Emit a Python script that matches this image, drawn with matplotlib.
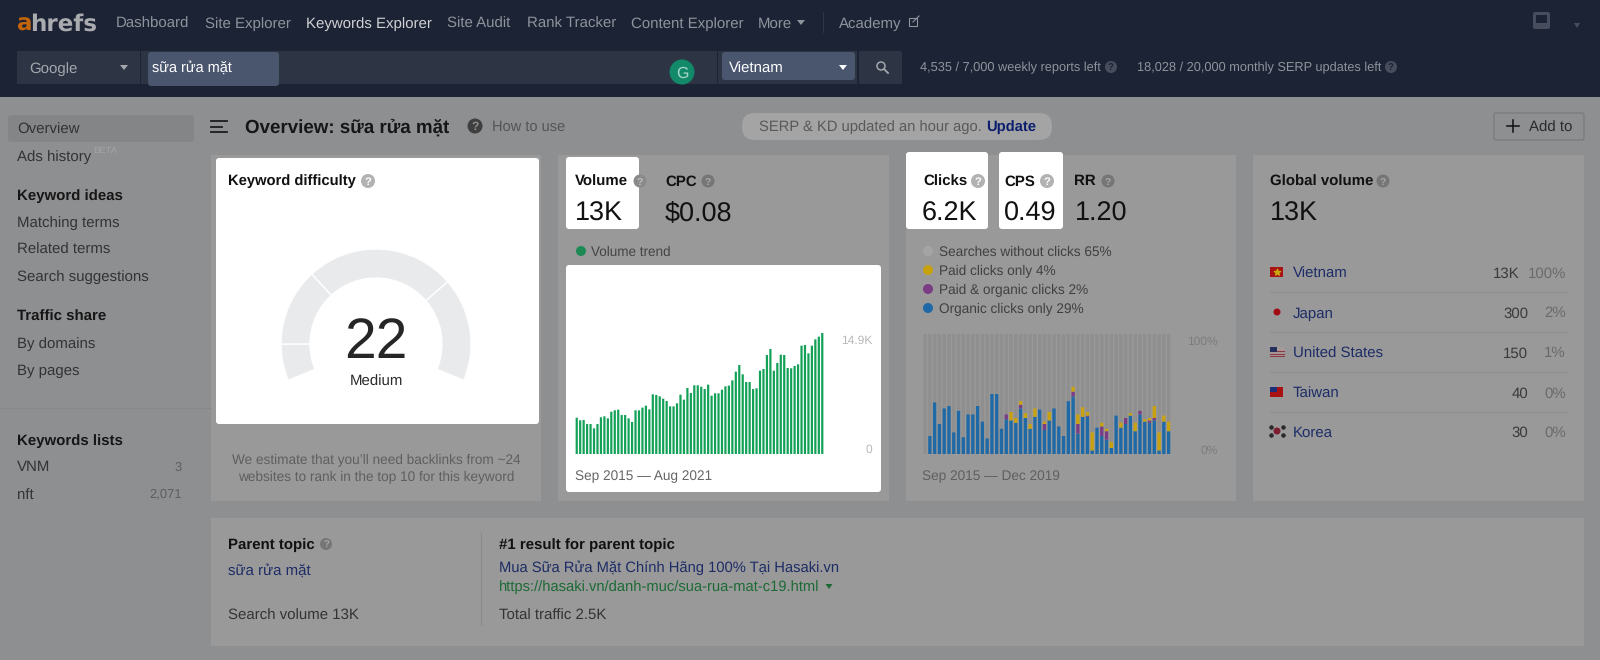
import matplotlib
matplotlib.use("Agg")
import matplotlib.pyplot as plt
from matplotlib.patches import Circle, FancyBboxPatch, Polygon, Rectangle
import numpy as np

plt.rcParams['font.family'] = ['Liberation Sans', 'DejaVu Sans']
plt.rcParams['text.hinting'] = 'no_hinting'
plt.rcParams['text.hinting_factor'] = 8

# data
volume_trend = [4.47, 4.15, 4.19, 3.69, 3.69, 3.16, 3.69, 4.52, 4.64, 4.39, 5.21, 5.38,
                5.46, 4.80, 4.80, 4.39, 3.94, 5.38, 5.38, 5.71, 5.95, 5.50, 7.35, 7.27,
                7.10, 6.81, 6.53, 5.87, 5.87, 6.24, 7.31, 6.69, 8.13, 7.51, 8.46, 8.46,
                8.29, 8.00, 8.54, 7.18, 7.47, 7.47, 7.92, 8.33, 8.42, 9.07, 10.14, 10.96,
                9.81, 8.87, 8.87, 8.00, 8.09, 10.26, 10.47, 12.19, 12.93, 10.26, 11.21, 12.23,
                12.19, 10.59, 10.55, 10.84, 11.04, 13.34, 13.42, 12.40, 13.34, 14.12, 14.45, 14.9]

organic = [0, 15, 43, 25, 38, 40, 18, 36, 14, 33, 33, 40, 27, 13, 50, 50, 21, 29, 28, 26,
           38, 30, 21, 31, 37, 20, 28, 38, 23, 15, 44, 48, 17, 31, 31, 3, 22, 15, 12, 5,
           32, 22, 25, 32, 19, 33, 27, 26, 28, 3, 27, 19]
paid_organic = [0, 0, 0, 0, 0, 0, 0, 0, 0, 0, 0, 0, 0, 0, 0, 0, 0, 4, 0, 0,
                3, 0, 0, 0, 0, 5, 0, 0, 0, 0, 0, 4, 8, 0, 1, 0, 0, 8, 7, 0,
                0, 0, 5, 0, 0, 3, 0, 2, 2, 0, 0, 0]
paid = [0, 0, 0, 0, 0, 0, 0, 0, 0, 0, 0, 0, 0, 0, 0, 0, 0, 0, 7, 4,
        3, 4, 4, 7, 0, 2, 7, 0, 0, 0, 0, 4, 8, 8, 3, 15, 0, 3, 2, 5,
        0, 4, 0, 2, 7, 0, 2, 2, 10, 15, 5, 8]

gauge_parts = [22.5, 47.5, 91.5, 63.5, 135]

nav_items = ["Dashboard", "Site Explorer", "Keywords Explorer", "Site Audit", "Rank Tracker",
             "Content Explorer", "More", "Academy"]
nav_x = [116, 205, 306, 447, 527, 631, 758, 839]

side_items = ["Overview", "Ads history", "Matching terms", "Related terms", "Search suggestions",
              "By domains", "By pages", "VNM", "nft"]
side_y = [128, 155, 221, 248, 275, 342, 369, 466, 493]
side_heads = ["Keyword ideas", "Traffic share", "Keywords lists"]
side_heads_y = [194, 315, 439]

countries = ["Vietnam", "Japan", "United States", "Taiwan", "Korea"]
country_vol = ["13K", "300", "150", "40", "30"]
country_pct = ["100%", "2%", "1%", "0%", "0%"]
country_y = [272, 312, 352, 392, 431]

click_labels = ["Searches without clicks 65%", "Paid clicks only 4%",
                "Paid & organic clicks 2%", "Organic clicks only 29%"]
click_colors = ["#a4a4a4", "#c8a20e", "#7b3c86", "#1f69a6"]

NAV = "#1b2335"
PAGE = "#8e8f91"
CARD = "#999999"
NAVY = "#1d2c66"
W, H = 1600, 660

fig = plt.figure(figsize=(16, 6.6), dpi=100, facecolor=PAGE)
ax = fig.add_axes([0, 0, 1, 1])
ax.set_xlim(0, W)
ax.set_ylim(H, 0)
ax.axis('off')


def px_axes(x0, y0, x1, y1):
    a = fig.add_axes([x0 / W, 1 - y1 / H, (x1 - x0) / W, (y1 - y0) / H])
    a.axis('off')
    a.patch.set_alpha(0)
    return a


def box(x0, y0, x1, y1, color, r=0, z=1, edge='none'):
    if r:
        p = FancyBboxPatch((x0 + r, y0 + r), x1 - x0 - 2 * r, y1 - y0 - 2 * r,
                           boxstyle=f"round,pad={r}", fc=color, ec=edge, lw=0.8, zorder=z)
    else:
        p = Rectangle((x0, y0), x1 - x0, y1 - y0, fc=color, ec=edge, zorder=z)
    ax.add_patch(p)


def txt(x, y, s, px=14, color="#3c3c3c", weight='normal', ha='left', z=5, **kw):
    # y is the middle of the x-height line, so every string sits on the same baseline
    ax.text(x, y + px * 0.36, s, fontsize=px * 0.72, color=color, weight=weight, ha=ha,
            va='baseline', zorder=z, **kw)


def qmark(x, y, r=7, color="#b2b2b2", fg="white", z=6):
    ax.add_patch(Circle((x, y), r, fc=color, ec='none', zorder=z))
    txt(x, y, "?", px=r * 1.6, color=fg, weight='bold', ha='center', z=z + 1)


def caret(x, y, color, s=4):
    ax.add_patch(Polygon([(x - s, y - 2), (x + s, y - 2), (x, y + 3)], fc=color, ec='none', zorder=6))


# top bar
box(0, 0, W, 97, NAV)
txt(16, 22, "a", px=23, color="#c2640a", weight='bold', family='DejaVu Sans')
txt(30, 22, "hrefs", px=23, color="#a9abaf", weight='bold', family='DejaVu Sans')
for name, x in zip(nav_items, nav_x):
    col = "#d0d1d3" if name == "Keywords Explorer" else "#8f939b"
    txt(x, 22, name, px=15, color=col)
caret(801, 22, "#8f939b")
ax.plot([823, 823], [12, 32], color="#2d3547", lw=0.8)
ax.add_patch(Rectangle((909, 18), 8, 8, fc='none', ec="#8f939b", lw=0.8, zorder=5))
ax.plot([913, 919], [22, 16], color="#8f939b", lw=0.8, zorder=5)

box(17, 51, 140, 84, "#2d3444")
box(141, 51, 717, 84, "#2d3444")
box(148, 52, 279, 86, "#4a556e", r=3, z=2)
box(718, 51, 857, 84, "#2d3444")
box(722, 52, 855, 80, "#4a556e", r=3, z=2)
box(859, 51, 902, 84, "#2d3444", r=2)
txt(29, 67, "Google", px=15, color="#a3a6ac")
caret(124, 67, "#a3a6ac")
txt(152, 66, "sữa rửa mặt", px=14.5, color="white")
txt(729, 67, "Vietnam", px=15, color="white")
caret(843, 67, "white")
ax.add_patch(Circle((881, 66), 4, fc='none', ec="#a3a6ac", lw=1.1, zorder=5))
ax.plot([884, 888], [69, 73], color="#a3a6ac", lw=1.3, zorder=5)
ax.add_patch(Circle((682, 72), 12.5, fc="#128a6a", ec='none', zorder=5))
txt(682, 72, "G", px=16, color="#a8d6c8", ha='center', z=6)
txt(920, 67, "4,535 / 7,000 weekly reports left", px=12.7, color="#8f939b")
qmark(1111, 67, 6, "#474d5c", "#1b2335")
txt(1137, 67, "18,028 / 20,000 monthly SERP updates left", px=12.7, color="#8f939b")
qmark(1391, 67, 6, "#474d5c", "#1b2335")
box(1533, 12, 1550, 29, "#474d5c", r=2, z=3)
box(1536, 15, 1547, 23, NAV, z=4)
caret(1577, 25, "#474d5c", 3)

# sidebar
box(8, 115, 194, 142, "#848586", r=3)
for name, y in zip(side_items, side_y):
    txt(17, y, name, px=15, color="#333333")
txt(93, 150, "BETA", px=9.5, color="#a5a5a5")
for name, y in zip(side_heads, side_heads_y):
    txt(17, y, name, px=15, color="#161616", weight='bold')
ax.plot([0, 211], [408, 408], color="#878889", lw=0.8)
txt(182, 466, "3", px=13, color="#5f5f5f", ha='right')
txt(182, 493, "2,071", px=13, color="#5f5f5f", ha='right')

# header row
for y, xend in [(121, 227), (126.5, 222), (132, 227)]:
    ax.plot([211, xend], [y, y], color="#1c1c1c", lw=1.3)
txt(245, 126, "Overview: sữa rửa mặt", px=18.8, color="#161616", weight='bold')
qmark(475, 126, 7.5, "#3f3f3f", "#8e8f91")
txt(492, 126, "How to use", px=14.6, color="#555555")
box(742, 113, 1052, 140, "#a4a4a4", r=13)
txt(759, 126, "SERP & KD updated an hour ago.", px=14.7, color="#595959")
txt(986, 126, "Update", px=14.7, color="#0c1f6e", weight='bold')
box(1494, 113, 1584, 140, "#8e8f91", r=2, edge="#77787a")
ax.plot([1507, 1519], [126, 126], color="#111111", lw=1.1, zorder=5)
ax.plot([1513, 1513], [120, 132], color="#111111", lw=1.1, zorder=5)
txt(1529, 126, "Add to", px=15, color="#2b2b2b")

# cards
for x0, x1 in [(211, 541), (558, 889), (906, 1236), (1253, 1584)]:
    box(x0, 155, x1, 501, CARD)
box(211, 518, 1584, 646, CARD)

# keyword difficulty card
box(216, 158, 539, 424, "white", r=3, z=2)
txt(228, 180, "Keyword difficulty", px=14.7, color="#111111", weight='bold')
qmark(368, 181)
gauge = px_axes(281, 249, 471, 439)
gauge.pie(gauge_parts, startangle=202.5, counterclock=False, radius=1,
          colors=["#e9eaec"] * 4 + ["none"],
          wedgeprops=dict(width=29 / 95, edgecolor='white', linewidth=1.0))
gauge.patches[-1].set_edgecolor('none')
gauge.set_xlim(-1, 1)
gauge.set_ylim(-1, 1)
txt(376, 337, "22", px=57, color="#262626", ha='center', z=7)
txt(376, 380, "Medium", px=15, color="#2b2b2b", ha='center', z=7)
txt(376, 459, "We estimate that you’ll need backlinks from ~24", px=13.6, color="#5f5f5f", ha='center')
txt(376, 476, "websites to rank in the top 10 for this keyword", px=13.6, color="#5f5f5f", ha='center')

# volume card
box(566, 157, 639, 229, "white", r=3, z=2)
txt(575, 180, "Volume", px=15, color="#111111", weight='bold')
qmark(640, 181, 6.5, "#8a8a8a", "#bdbdbd")
txt(665, 180, "CPC", px=15, color="#111111", weight='bold')
qmark(708, 181, 6.5, "#767676", "#a8a8a8")
txt(575, 211, "13K", px=27, color="#111111")
txt(665, 211, "$0.08", px=27, color="#111111")
ax.add_patch(Circle((581, 251), 5, fc="#1d8a55", ec='none', zorder=5))
txt(591, 251, "Volume trend", px=13.5, color="#444444")
box(566, 265, 881, 492, "white", r=3, z=2)
trend_ax = px_axes(575, 333, 824, 454)
trend_ax.bar(np.arange(len(volume_trend)), volume_trend, width=0.64, color="#13a158", snap=False, lw=0)
trend_ax.set_xlim(-0.5, len(volume_trend) - 0.5)
trend_ax.set_ylim(0, 14.9)
txt(872, 340, "14.9K", px=12, color="#b8b8b8", ha='right', z=7)
txt(872, 449, "0", px=12, color="#b8b8b8", ha='right', z=7)
txt(575, 475, "Sep 2015 — Aug 2021", px=13.6, color="#666666", z=7)

# clicks card
box(906, 152, 988, 229, "white", r=3, z=2)
box(999, 152, 1063, 229, "white", r=3, z=2)
txt(923, 180, "Clicks", px=15, color="#111111", weight='bold')
qmark(978, 181)
txt(1004, 180, "CPS", px=15, color="#111111", weight='bold')
qmark(1047, 181)
txt(1074, 180, "RR", px=15, color="#111111", weight='bold')
qmark(1108, 181, 6.5, "#767676", "#a8a8a8")
txt(922, 211, "6.2K", px=27, color="#111111")
txt(1004, 211, "0.49", px=27, color="#111111")
txt(1075, 211, "1.20", px=27, color="#111111")
for i, (label, col) in enumerate(zip(click_labels, click_colors)):
    y = 251 + 19 * i
    ax.add_patch(Circle((928, y), 5, fc=col, ec='none', zorder=5))
    txt(939, y, label, px=13.6, color="#404040")
clicks_ax = px_axes(922.7, 334, 1171, 454)
pos = np.arange(len(organic))
b1 = np.array(organic)
b2 = b1 + np.array(paid_organic)
b3 = b2 + np.array(paid)
clicks_ax.bar(pos, 100 - b3, bottom=b3, width=0.7, color="#8f8f8f", snap=False, lw=0)
clicks_ax.bar(pos, organic, width=0.7, color=click_colors[3], snap=False, lw=0)
clicks_ax.bar(pos, paid_organic, bottom=b1, width=0.7, color=click_colors[2], snap=False, lw=0)
clicks_ax.bar(pos, paid, bottom=b2, width=0.7, color=click_colors[1], snap=False, lw=0)
clicks_ax.set_xlim(-0.5, len(organic) - 0.5)
clicks_ax.set_ylim(0, 100)
txt(1218, 341, "100%", px=12, color="#7c7c7c", ha='right')
txt(1218, 450, "0%", px=12, color="#7c7c7c", ha='right')
txt(922, 475, "Sep 2015 — Dec 2019", px=13.6, color="#5f5f5f")

# global volume card
txt(1270, 180, "Global volume", px=15, color="#111111", weight='bold')
qmark(1383, 181, 6.5, "#767676", "#a8a8a8")
txt(1270, 211, "13K", px=27, color="#111111")
for i, name in enumerate(countries):
    y = country_y[i]
    txt(1293, y, name, px=15, color=NAVY)
    txt(1520 if i == 0 else 1528, y, country_vol[i], px=15, color="#3a3a3a", ha='right')
    txt(1566, y, country_pct[i], px=15, color="#6a6a6a", ha='right')
    if i < 4:
        ax.plot([1270, 1567], [y + 20, y + 20], color="#8e8e8e", lw=0.8)
# flags
box(1270, 267, 1283, 277, "#a81212")
ax.scatter([1276.5], [272], marker='*', s=22, color="#c9a80f", zorder=5)
ax.add_patch(Circle((1277, 312), 3.5, fc="#a00d12", ec='none', zorder=5))
box(1270, 347, 1284, 357, "#a99a9a")
for yy in [351, 353.5, 356]:
    ax.plot([1270, 1284], [yy, yy], color="#8a3c46", lw=0.8, zorder=5)
box(1270, 347, 1277, 352, "#26305c", z=6)
box(1270, 387, 1283, 397, "#a81212")
box(1270, 387, 1277, 392, "#1e2d78", z=3)
ax.add_patch(Circle((1277, 431), 3.5, fc="#7c1e30", ec='none', zorder=5))
ax.scatter([1271, 1283, 1271, 1283], [427, 427, 435, 435], s=5, color="#2a2a2a", zorder=5)

# parent topic card
txt(228, 543, "Parent topic", px=15, color="#111111", weight='bold')
qmark(326, 544, 6, "#767676", "#a8a8a8")
txt(228, 569, "sữa rửa mặt", px=15, color=NAVY)
txt(228, 614, "Search volume 13K", px=15, color="#333333")
ax.plot([481, 481], [533, 625], color="#8a8a8a", lw=0.8, zorder=3)
txt(499, 543, "#1 result for parent topic", px=15, color="#111111", weight='bold')
txt(499, 567, "Mua Sữa Rửa Mặt Chính Hãng 100% Tại Hasaki.vn", px=14.8, color=NAVY)
txt(499, 586, "https://hasaki.vn/danh-muc/sua-rua-mat-c19.html", px=14.7, color="#1c6b35")
caret(829, 586, "#1c6b35", 3.5)
txt(499, 614, "Total traffic 2.5K", px=15, color="#333333")

fig.savefig("out.png", dpi=100, facecolor=fig.get_facecolor())
